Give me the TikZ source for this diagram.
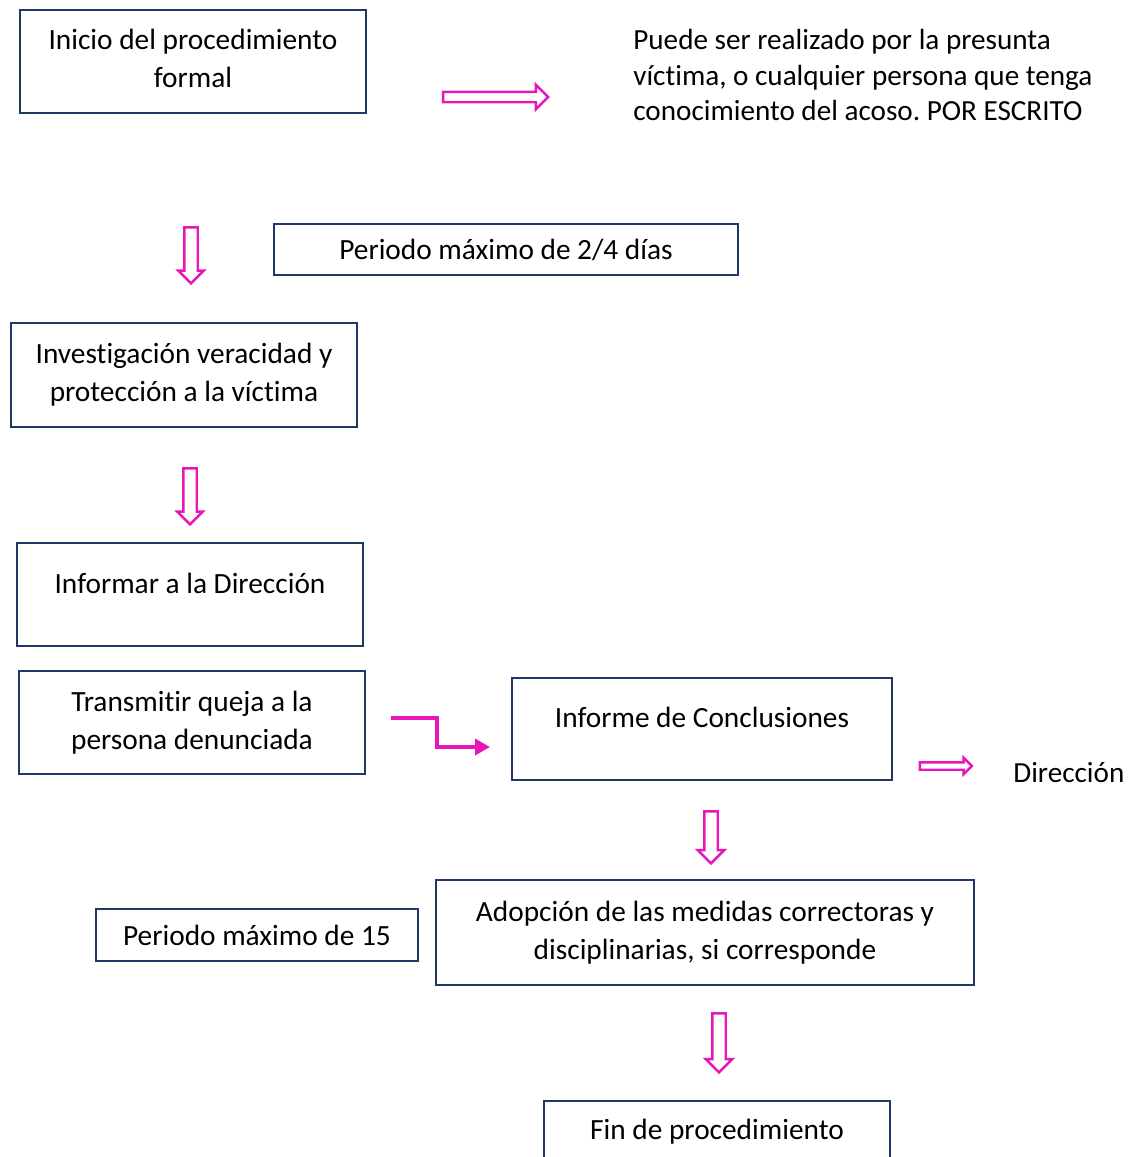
\documentclass[tikz,border=0pt]{standalone}
\usepackage{fontspec}
\setmainfont[Ligatures={NoCommon,NoContextual},RawFeature={-liga;-clig;-calt}]{Carlito}
\frenchspacing
\usepackage{tikz}
\usetikzlibrary{shapes.arrows,arrows.meta,calc}
\definecolor{marco}{RGB}{31,56,100}
\definecolor{rosa}{RGB}{232,22,184}
\newcommand{\px}{0.02cm}
\tikzset{
	caja/.style={draw=marco, line width=1.2pt, align=center, inner sep=0pt, font=\fontsize{16.7}{21.6}\selectfont},
	nota/.style={align=left, inner sep=0pt, font=\fontsize{16.6}{20}\selectfont},
	flecha/.style={single arrow, draw=rosa, fill=white, line width=1.4pt, inner sep=0pt, text height=#1, text depth=0pt, minimum width=0pt},
	codo/.style={draw=rosa, line width=2pt, -{Triangle[length=0.3cm, width=0.32cm]}}
}
\begin{document}
\begin{tikzpicture}[x=\px, y=-\px]
		\useasboundingbox (0,0) rectangle (1133,1157);
		% left column
		\node[caja, minimum width=346*\px, minimum height=103*\px, text depth=0.12cm] (inicio) at (193,61.5) {Inicio del procedimiento\\formal};
		\node[caja, minimum width=346*\px, minimum height=104*\px] (investiga) at (184,375) {Investigación veracidad y\\protección a la víctima};
		\node[caja, minimum width=346*\px, minimum height=103*\px, text depth=0.45cm] (informa) at (190,594.5) {Informar a la Dirección};
		\node[caja, minimum width=346*\px, minimum height=103*\px] (transmite) at (192,722.5) {Transmitir queja a la\\persona denunciada};
		\node[caja, minimum width=322*\px, minimum height=52*\px] (plazoB) at (257,935) {Periodo máximo de 15};
		% right column
		\node[nota, anchor=west] (quien) at (633,75) {Puede ser realizado por la presunta\\víctima, o cualquier persona que tenga\\conocimiento del acoso. POR ESCRITO};
		\node[caja, minimum width=464*\px, minimum height=51*\px] (plazoA) at (506,249.5) {Periodo máximo de 2/4 días};
		\node[caja, minimum width=380*\px, minimum height=102*\px, text depth=0.47cm] (conclusion) at (702,729) {Informe de Conclusiones};
		\node[nota, anchor=west] (direccion) at (1013,773) {Dirección};
		\node[caja, minimum width=538*\px, minimum height=105*\px] (adopcion) at (705,932.5) {Adopción de las medidas correctoras y\\disciplinarias, si corresponde};
		\node[caja, minimum width=346*\px, minimum height=103*\px, text depth=0.93cm] (fin) at (717,1152.5) {Fin de procedimiento};
		% hollow arrows
		\node[flecha=0.16cm, single arrow head extend=0.14cm, minimum height=2.1cm] (flechaA) at (493,97) {};
		\node[flecha=0.22cm, single arrow head extend=0.12cm, minimum height=1.12cm, rotate=-90] (flechaB) at (191,252) {};
		\node[flecha=0.22cm, single arrow head extend=0.12cm, minimum height=1.12cm, rotate=-90] (flechaC) at (190,493) {};
		\node[flecha=0.10cm, single arrow head extend=0.09cm, minimum height=1.04cm] (flechaD) at (944,766) {};
		\node[flecha=0.22cm, single arrow head extend=0.13cm, minimum height=1.04cm, rotate=-90] (flechaE) at (711,834) {};
		\node[flecha=0.22cm, single arrow head extend=0.13cm, minimum height=1.18cm, rotate=-90] (flechaF) at (719,1039.5) {};
		% elbow between transmite and conclusion
		\coordinate (codoA) at (391,718);
		\coordinate (codoB) at (490,747);
		\draw[codo] (codoA) -- ++(46,0) |- (codoB);
	\end{tikzpicture}
\end{document}
